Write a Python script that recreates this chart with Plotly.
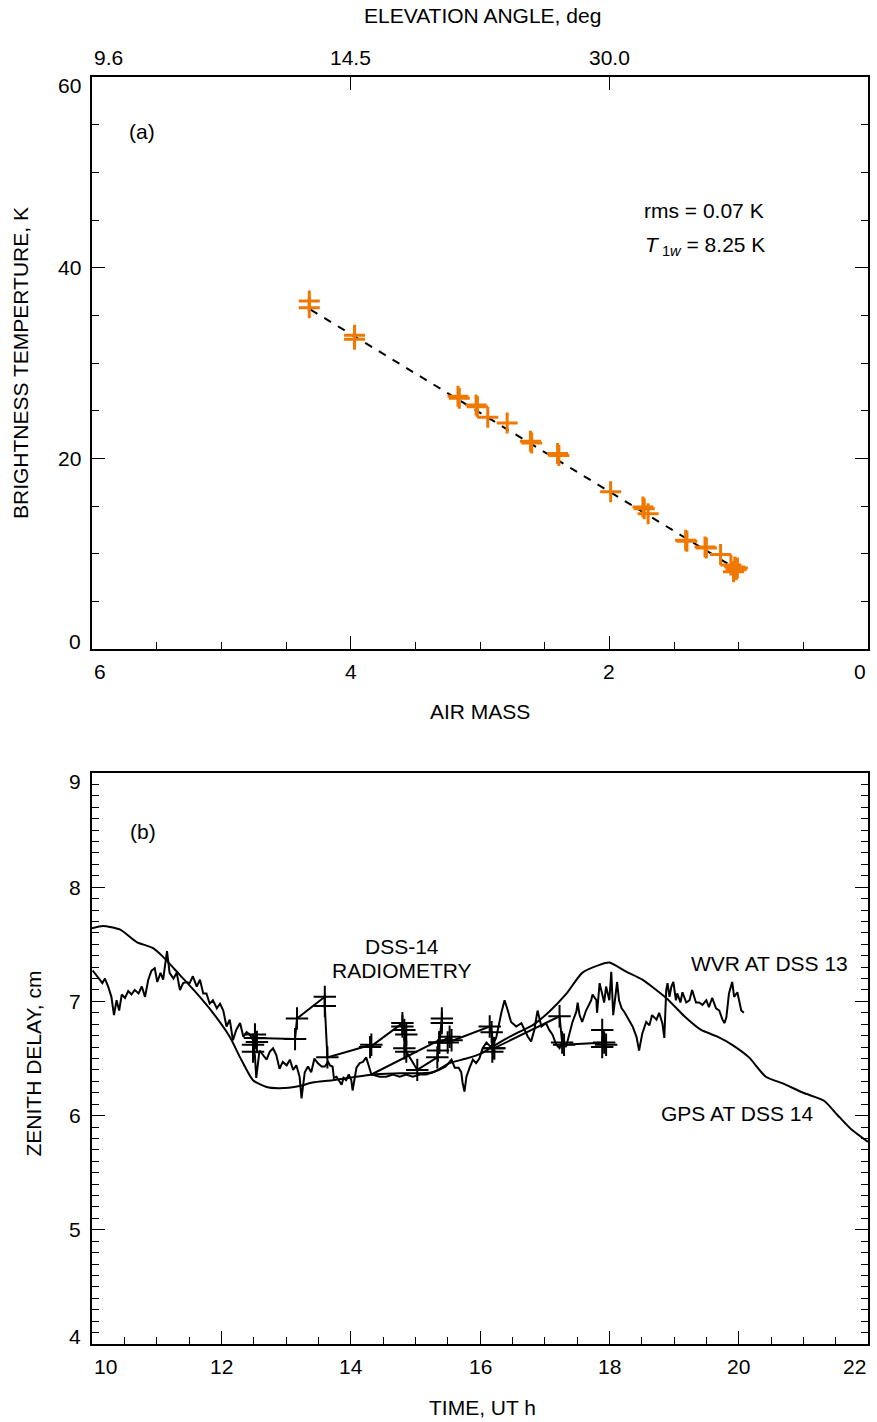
import plotly.graph_objects as go

# ---------------- Panel (a): tipping curve ----------------
air_mass = [4.32, 4.32, 3.97, 3.97, 3.17, 3.16, 3.03, 3.02, 2.94, 2.79, 2.61, 2.60,
            2.40, 2.39, 1.99, 1.74, 1.73, 1.70, 1.41, 1.40, 1.26, 1.25, 1.14,
            1.06, 1.03, 1.02, 1.04, 1.01]
tb_k = [36.5, 35.8, 32.9, 32.5, 26.5, 26.3, 25.6, 25.4, 24.3, 23.7, 21.8, 21.6,
        20.5, 20.3, 16.5, 14.9, 14.7, 14.2, 11.4, 11.3, 10.7, 10.6, 9.9,
        8.8, 8.6, 8.3, 8.1, 8.5]
fit_air_mass = [4.31, 1.0]
fit_tb_k = [35.6, 8.25]

am_range = [6, 0]
am_ticks = [6, 4, 2, 0]
am_labels = ["6", "4", "2", "0"]
tb_range = [0, 60]
tb_ticks = [0, 20, 40, 60]
tb_labels = ["0", "20", "40", "60"]
elev_tick_am = [6, 4, 2]
elev_labels = ["9.6", "14.5", "30.0"]

# ---------------- Panel (b): zenith delay ----------------
gps_t = [10.00, 10.17, 10.43, 10.69, 10.93, 11.10, 11.36, 11.62, 11.87, 12.13, 12.29,
         12.49, 12.70, 12.90, 13.21, 13.41, 13.72, 14.34, 14.76, 15.27, 15.53, 15.79,
         16.04, 16.30, 16.56, 16.81, 17.07, 17.34, 17.58, 17.85, 18.00, 18.26, 18.51,
         18.88, 19.16, 19.42, 19.68, 19.90, 20.16, 20.42, 20.69, 21.00, 21.32, 21.52,
         21.74, 22.00]
gps_d = [7.64, 7.66, 7.63, 7.52, 7.47, 7.39, 7.23, 7.07, 6.90, 6.69, 6.51,
         6.31, 6.25, 6.24, 6.26, 6.29, 6.31, 6.36, 6.37, 6.38, 6.46, 6.50,
         6.55, 6.64, 6.72, 6.79, 6.91, 7.07, 7.25, 7.32, 7.34, 7.26, 7.19,
         7.03, 6.87, 6.75, 6.69, 6.62, 6.51, 6.34, 6.28, 6.20, 6.13, 6.01,
         5.88, 5.77]

wvr_t = [10.01, 10.07, 10.12, 10.16, 10.20, 10.25, 10.30, 10.34, 10.38, 10.42, 10.46,
         10.51, 10.56, 10.61, 10.66, 10.72, 10.77, 10.82, 10.87, 10.92, 10.97, 11.01,
         11.06, 11.10, 11.16, 11.20, 11.26, 11.31, 11.36, 11.41, 11.46, 11.51, 11.56,
         11.62, 11.67, 11.72, 11.77, 11.82, 11.87, 11.93, 11.98, 12.03, 12.08, 12.13,
         12.18, 12.23, 12.29, 12.34, 12.39, 12.44, 12.49, 12.52, 12.54, 12.59, 12.64,
         12.70, 12.75, 12.80, 12.85, 12.90, 12.95, 13.01, 13.06, 13.11, 13.16, 13.21,
         13.24, 13.29, 13.34, 13.39, 13.44, 13.49, 13.55, 13.60, 13.65,
         13.68, 13.72, 13.74, 13.78, 13.81, 13.86, 13.89, 13.93, 13.97, 14.01, 14.03,
         14.06, 14.09, 14.14, 14.19, 14.24, 14.28, 14.32, 14.45, 14.55, 14.65, 14.76,
         14.86, 14.96, 15.07, 15.17, 15.27, 15.37, 15.47, 15.56, 15.61, 15.67, 15.71,
         15.73, 15.76, 15.79, 15.84, 15.89, 15.94, 15.99, 16.04, 16.10, 16.17, 16.25,
         16.33, 16.38, 16.43, 16.48, 16.56, 16.64, 16.69, 16.74, 16.79, 16.84, 16.89,
         16.95, 17.02, 17.07, 17.12, 17.18, 17.23, 17.28, 17.33, 17.43, 17.49, 17.51,
         17.54, 17.58, 17.64, 17.72, 17.74, 17.80, 17.81, 17.85, 17.92, 17.95, 18.00,
         18.03, 18.06, 18.11, 18.12, 18.15, 18.19, 18.23, 18.28, 18.36, 18.42, 18.46,
         18.51, 18.57, 18.62, 18.66, 18.73, 18.77, 18.82, 18.85, 18.88, 18.90, 18.93,
         18.96, 18.99, 19.03, 19.05, 19.10, 19.13, 19.19, 19.24, 19.28, 19.34, 19.39,
         19.44, 19.50, 19.54, 19.59, 19.65, 19.70, 19.75, 19.78, 19.81, 19.85, 19.90,
         19.93, 19.98, 20.04, 20.08]
wvr_d = [7.27, 7.23, 7.19, 7.16, 7.20, 7.13, 7.04, 6.88, 7.01, 6.92, 7.06,
         7.03, 7.09, 7.06, 7.10, 7.07, 7.13, 7.04, 7.19, 7.27, 7.29, 7.17,
         7.25, 7.19, 7.44, 7.25, 7.20, 7.25, 7.10, 7.16, 7.17, 7.16, 7.22,
         7.13, 7.19, 7.07, 7.07, 6.98, 7.01, 6.94, 6.98, 6.92, 6.78, 6.84,
         6.66, 6.75, 6.81, 6.69, 6.73, 6.71, 6.66, 6.52, 6.33, 6.57, 6.53,
         6.49, 6.56, 6.59, 6.53, 6.41, 6.47, 6.44, 6.49, 6.40, 6.44, 6.34,
         6.15, 6.38, 6.43, 6.38, 6.50, 6.46, 6.43, 6.43, 6.47,
         6.44, 6.43, 6.33, 6.34, 6.31, 6.27, 6.33, 6.31, 6.36, 6.31, 6.22,
         6.34, 6.42, 6.46, 6.47, 6.51, 6.43, 6.36, 6.34, 6.34, 6.36, 6.34,
         6.36, 6.34, 6.36, 6.36, 6.38, 6.40, 6.43, 6.49, 6.42, 6.42, 6.38,
         6.29, 6.21, 6.34, 6.42, 6.49, 6.46, 6.50, 6.59, 6.64, 6.60, 6.68,
         6.90, 7.01, 6.92, 6.82, 6.78, 6.81, 6.75, 6.69, 6.65, 6.75, 6.92,
         6.78, 6.81, 6.75, 6.71, 6.62, 6.59, 6.66, 6.60, 6.82, 6.91, 6.99,
         6.88, 6.82, 6.92, 7.01, 7.06, 7.01, 6.90, 7.16, 6.99, 7.13, 7.01,
         7.26, 6.88, 7.10, 7.17, 7.01, 6.94, 6.91, 6.86, 6.78, 6.69, 6.57,
         6.72, 6.82, 6.79, 6.88, 6.84, 6.90, 6.81, 6.68, 7.10, 7.16, 7.04,
         7.13, 7.17, 7.01, 7.07, 6.99, 7.08, 6.99, 7.01, 7.10, 6.99, 6.99,
         6.97, 7.01, 6.95, 7.03, 6.94, 6.92, 6.84, 6.81, 6.86, 7.07, 7.17,
         7.04, 7.08, 6.92, 6.90]

rad_t = [12.49, 12.49, 12.52, 12.55, 12.52, 13.14, 13.17, 13.60, 13.60, 13.64,
         14.32, 14.30, 14.80, 14.80, 14.83, 14.86, 14.83, 14.86, 15.03,
         15.34, 15.35, 15.37, 15.41, 15.41, 15.37, 15.53, 15.56, 15.50,
         16.15, 16.18, 16.22, 16.19, 16.22, 17.23, 17.27, 17.30,
         17.92, 17.89, 17.95, 17.89]
rad_d = [6.56, 6.62, 6.71, 6.645, 6.68, 6.67, 6.85, 7.04, 6.96, 6.51,
         6.62, 6.60, 6.81, 6.78, 6.75, 6.71, 6.59, 6.56, 6.40,
         6.51, 6.57, 6.64, 6.81, 6.85, 6.64, 6.69, 6.66, 6.64,
         6.78, 6.73, 6.59, 6.56, 6.59, 6.87, 6.64, 6.62,
         6.64, 6.75, 6.62, 6.60]
rad_link_t = [14.32, 15.37]
rad_link_d = [6.36, 6.66]

time_range = [10, 22]
time_ticks = [10, 12, 14, 16, 18, 20, 22]
time_labels = ["10", "12", "14", "16", "18", "20", "22"]
zd_range = [4, 9]
zd_ticks = [4, 5, 6, 7, 8, 9]
zd_labels = ["4", "5", "6", "7", "8", "9"]

ORANGE = "#F07800"
FONT = "Liberation Sans, Arial, Helvetica, sans-serif"
FS = 21

fig = go.Figure()

# panel (a)
fig.add_trace(go.Scatter(x=fit_air_mass, y=fit_tb_k, mode="lines",
                         line=dict(color="black", width=2, dash="8px,8px"),
                         xaxis="x", yaxis="y", hoverinfo="skip"))
fig.add_trace(go.Scatter(x=air_mass, y=tb_k, mode="markers",
                         marker=dict(symbol="cross-thin", size=15,
                                     line=dict(color=ORANGE, width=3)),
                         xaxis="x", yaxis="y"))
# dummy traces to register the extra axes
fig.add_trace(go.Scatter(x=elev_tick_am, y=[None] * len(elev_tick_am), mode="markers",
                         xaxis="x3", yaxis="y", hoverinfo="skip", showlegend=False))
fig.add_trace(go.Scatter(x=am_ticks, y=[None] * len(am_ticks), mode="markers",
                         xaxis="x", yaxis="y3", hoverinfo="skip", showlegend=False))

# panel (b)
fig.add_trace(go.Scatter(x=gps_t, y=gps_d, mode="lines",
                         line=dict(color="black", width=2, shape="spline", smoothing=0.6),
                         xaxis="x2", yaxis="y2"))
fig.add_trace(go.Scatter(x=wvr_t, y=wvr_d, mode="lines",
                         line=dict(color="black", width=2),
                         xaxis="x2", yaxis="y2"))
fig.add_trace(go.Scatter(x=rad_link_t, y=rad_link_d, mode="lines",
                         line=dict(color="black", width=2),
                         xaxis="x2", yaxis="y2"))
fig.add_trace(go.Scatter(x=rad_t, y=rad_d, mode="lines+markers",
                         line=dict(color="black", width=2),
                         marker=dict(symbol="cross-thin", size=16,
                                     line=dict(color="black", width=2)),
                         xaxis="x2", yaxis="y2"))
fig.add_trace(go.Scatter(x=time_ticks, y=[None] * len(time_ticks), mode="markers",
                         xaxis="x2", yaxis="y4", hoverinfo="skip", showlegend=False))

base = dict(showgrid=False, zeroline=False, showline=True, linecolor="black",
            linewidth=2, mirror=True, ticks="inside", ticklen=13, tickwidth=1,
            tickcolor="black", showticklabels=False)
minor = lambda d: dict(dtick=d, ticks="inside", ticklen=7, tickwidth=1, tickcolor="black")
overlay = dict(showgrid=False, zeroline=False, showline=False, ticks="inside",
               ticklen=13, tickwidth=1, tickcolor="black", showticklabels=False)

top_dom = [(1344 - 649) / 1267, 1.0]
bot_dom = [0.0, (1344 - 773) / 1267]

fig.update_layout(
    width=877, height=1422,
    margin=dict(l=92, r=7, t=77, b=78),
    paper_bgcolor="white", plot_bgcolor="white",
    showlegend=False,
    font=dict(family=FONT, size=FS, color="black"),
    xaxis=dict(**base, domain=[0, 1], anchor="y", range=am_range,
               tickmode="linear", tick0=0, dtick=2, minor=minor(0.5)),
    xaxis3=dict(**overlay, overlaying="x", side="top", anchor="y", range=am_range,
                tickmode="array", tickvals=elev_tick_am[1:]),
    yaxis=dict(**base, domain=top_dom, anchor="x", range=tb_range,
               tickmode="linear", tick0=0, dtick=20, minor=minor(5)),
    yaxis3=dict(**overlay, overlaying="y", side="right", anchor="x", range=tb_range,
                tickmode="linear", tick0=0, dtick=20, minor=minor(5)),
    xaxis2=dict(**base, domain=[0, 1], anchor="y2", range=time_range,
                tickmode="linear", tick0=10, dtick=2, minor=minor(0.5)),
    yaxis2=dict(**base, domain=bot_dom, anchor="x2", range=zd_range,
                tickmode="linear", tick0=4, dtick=1, minor=minor(0.1)),
    yaxis4=dict(**overlay, overlaying="y2", side="right", anchor="x2", range=zd_range,
                tickmode="linear", tick0=4, dtick=1, minor=minor(0.1)),
)

ann = []


def xlabels(vals, labels, rng, xref, yref, ypos, yshift):
    for v, s in zip(vals, labels):
        anchor = "left" if v == rng[0] else ("right" if v == rng[1] else "center")
        ann.append(dict(x=v, y=ypos, xref=xref, yref=yref, text=s, showarrow=False,
                        xanchor=anchor, yanchor="middle", yshift=yshift))


def ylabels(vals, labels, rng, xref, yref):
    for v, s in zip(vals, labels):
        shift = 8 if v == rng[0] else (-8 if v == rng[1] else 0)
        ann.append(dict(x=0, y=v, xref=xref, yref=yref, text=s, showarrow=False,
                        xanchor="right", yanchor="middle", xshift=-9, yshift=shift))


xlabels(am_ticks, am_labels, am_range, "x", "y domain", 0, -22)
xlabels(elev_tick_am, elev_labels, am_range, "x", "y domain", 1, 20)
ylabels(tb_ticks, tb_labels, tb_range, "x domain", "y")
xlabels(time_ticks, time_labels, time_range, "x2", "y2 domain", 0, -22)
ylabels(zd_ticks, zd_labels, zd_range, "x2 domain", "y2")

# axis titles
ann += [
    dict(x=0.5, y=1, xref="x domain", yref="y domain", text="ELEVATION ANGLE, deg",
         showarrow=False, xanchor="center", yanchor="middle", xshift=2, yshift=62),
    dict(x=0.5, y=0, xref="x domain", yref="y domain", text="AIR MASS",
         showarrow=False, xanchor="center", yanchor="middle", yshift=-62),
    dict(x=0, y=0.5, xref="x domain", yref="y domain", text="BRIGHTNESS TEMPERTURE, K",
         showarrow=False, textangle=-90, xanchor="center", yanchor="middle", xshift=-72),
    dict(x=0.5, y=0, xref="x2 domain", yref="y2 domain", text="TIME, UT h",
         showarrow=False, xanchor="center", yanchor="middle", xshift=2, yshift=-63),
    dict(x=0, y=0.5, xref="x2 domain", yref="y2 domain", text="ZENITH DELAY, cm",
         showarrow=False, textangle=-90, xanchor="center", yanchor="middle",
         xshift=-59, yshift=-5),
]

# in-plot text
ann += [
    dict(x=5.61, y=54.3, xref="x", yref="y", text="(a)", showarrow=False),
    dict(x=1.27, y=46.0, xref="x", yref="y", text="rms = 0.07 K", showarrow=False),
    dict(x=1.26, y=42.3, xref="x", yref="y",
         text="<i>T</i><sub> 1<i>w</i></sub> = 8.25 K", showarrow=False),
    dict(x=10.79, y=8.49, xref="x2", yref="y2", text="(b)", showarrow=False),
    dict(x=14.79, y=7.48, xref="x2", yref="y2", text="DSS-14", showarrow=False),
    dict(x=14.79, y=7.27, xref="x2", yref="y2", text="RADIOMETRY", showarrow=False),
    dict(x=20.47, y=7.33, xref="x2", yref="y2", text="WVR AT DSS 13", showarrow=False),
    dict(x=19.98, y=6.02, xref="x2", yref="y2", text="GPS AT DSS 14", showarrow=False),
]

fig.update_layout(annotations=ann)
fig.write_html("out.html")
